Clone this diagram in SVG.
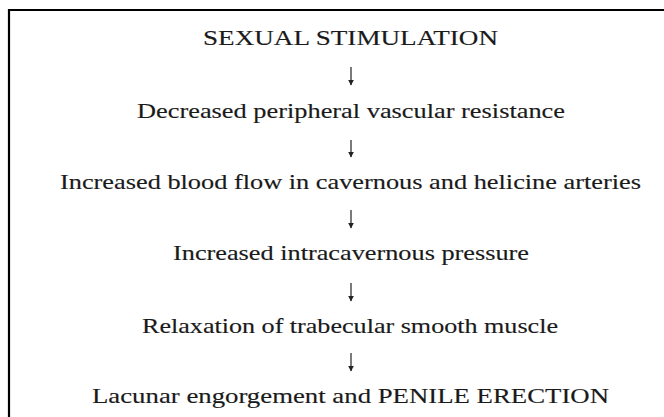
<svg xmlns="http://www.w3.org/2000/svg" width="664" height="417" viewBox="0 0 664 417">
  <style>
    .t { font-family: "Liberation Serif", "Times New Roman", serif; font-size: 21.5px; fill: #1a1a1a; stroke: #1a1a1a; stroke-width: 0.15; }
    .c { stroke: #333; stroke-width: 1.3; fill: none; }
  </style>
  <defs>
    <marker id="ah" viewBox="0 0 10 10" refX="9" refY="5" markerWidth="6" markerHeight="8" markerUnits="userSpaceOnUse" orient="auto">
      <path d="M0,0 L10,5 L0,10 Z" fill="#222"/>
    </marker>
  </defs>
  <rect width="664" height="417" fill="#ffffff"/>
  <path d="M9,417 L9,10 L664,10" fill="none" stroke="#000" stroke-width="2.2"/>

  <g id="n1"><text class="t" x="203" y="45" textLength="295" lengthAdjust="spacingAndGlyphs">SEXUAL STIMULATION</text></g>
  <g id="n2"><text class="t" x="137" y="118" textLength="428" lengthAdjust="spacingAndGlyphs">Decreased peripheral vascular resistance</text></g>
  <g id="n3"><text class="t" x="60" y="189" textLength="581" lengthAdjust="spacingAndGlyphs">Increased blood flow in cavernous and helicine arteries</text></g>
  <g id="n4"><text class="t" x="173" y="260" textLength="356" lengthAdjust="spacingAndGlyphs">Increased intracavernous pressure</text></g>
  <g id="n5"><text class="t" x="142" y="333" textLength="416" lengthAdjust="spacingAndGlyphs">Relaxation of trabecular smooth muscle</text></g>
  <g id="n6"><text class="t" x="92" y="403" textLength="517" lengthAdjust="spacingAndGlyphs">Lacunar engorgement and PENILE ERECTION</text></g>

  <g id="connectors">
    <line class="c" x1="351" y1="67" x2="351" y2="85" marker-end="url(#ah)"/>
    <line class="c" x1="351" y1="140" x2="351" y2="157" marker-end="url(#ah)"/>
    <line class="c" x1="351" y1="210" x2="351" y2="228" marker-end="url(#ah)"/>
    <line class="c" x1="351" y1="283" x2="351" y2="301" marker-end="url(#ah)"/>
    <line class="c" x1="351" y1="353" x2="351" y2="371" marker-end="url(#ah)"/>
  </g>
</svg>
